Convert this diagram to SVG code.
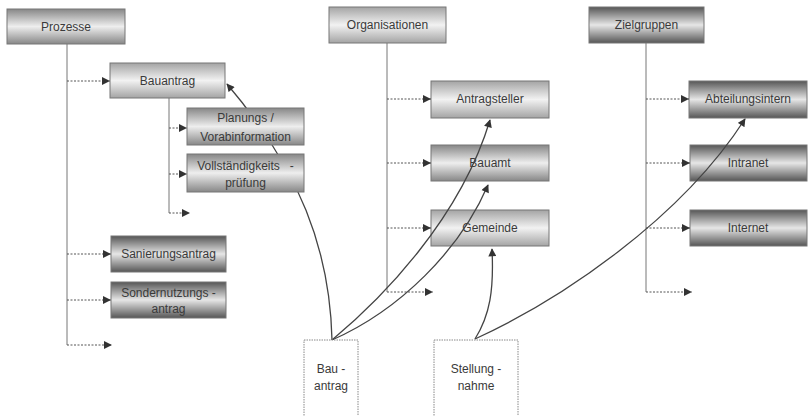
<svg xmlns="http://www.w3.org/2000/svg" width="808" height="416" viewBox="0 0 808 416">
<defs>
<linearGradient id="gLight" x1="0" y1="0" x2="0" y2="1">
<stop offset="0" stop-color="#a4a4a4"/><stop offset="0.5" stop-color="#f2f2f2"/><stop offset="1" stop-color="#a4a4a4"/>
</linearGradient>
<linearGradient id="gMed" x1="0" y1="0" x2="0" y2="1">
<stop offset="0" stop-color="#878787"/><stop offset="0.5" stop-color="#eeeeee"/><stop offset="1" stop-color="#878787"/>
</linearGradient>
<linearGradient id="gDark" x1="0" y1="0" x2="0" y2="1">
<stop offset="0" stop-color="#565656"/><stop offset="0.5" stop-color="#e6e6e6"/><stop offset="1" stop-color="#565656"/>
</linearGradient>
<marker id="ah" viewBox="0 0 10 10" refX="10" refY="5" markerWidth="9" markerHeight="8" markerUnits="userSpaceOnUse" orient="auto">
<path d="M0,0 L10,5 L0,10 z" fill="#333"/>
</marker>
<marker id="ahc" viewBox="0 0 10 10" refX="9" refY="5" markerWidth="9" markerHeight="8" markerUnits="userSpaceOnUse" orient="auto">
<path d="M0,0 L10,5 L0,10 z" fill="#333"/>
</marker>
</defs>
<style>
.box{stroke:#777;stroke-width:1}
.lt{fill:url(#gLight)}
.md{fill:url(#gMed)}
.dk{fill:url(#gDark)}
.doc{fill:#fff;stroke:#888;stroke-width:1;stroke-dasharray:1.5,1}
text{font-family:"Liberation Sans",Arial,sans-serif;font-size:12px;fill:#3a3a3a;text-anchor:middle}
.vl{stroke:#777;stroke-width:1;fill:none}
.hl{stroke:#555;stroke-width:1;stroke-dasharray:2,1.5;fill:none;marker-end:url(#ah)}
.cv{stroke:#444;stroke-width:1.3;fill:none;marker-end:url(#ahc)}
</style>
<rect width="808" height="416" fill="#fff"/>

<g id="organisationen">
<rect class="box lt" x="329" y="7" width="117" height="36"/>
<text x="387.5" y="29">Organisationen</text>
</g>
<g id="antragsteller">
<rect class="box lt" x="431" y="81" width="118" height="37"/>
<text x="490" y="103">Antragsteller</text>
</g>
<g id="bauamt">
<rect class="box md" x="431" y="145" width="118" height="36"/>
<text x="490" y="167">Bauamt</text>
</g>
<g id="gemeinde">
<rect class="box lt" x="431" y="210" width="118" height="36"/>
<text x="490" y="232">Gemeinde</text>
</g>
<g id="zielgruppen">
<rect class="box dk" x="589" y="7" width="115" height="36"/>
<text x="646.5" y="29">Zielgruppen</text>
</g>
<g id="abteilungsintern">
<rect class="box dk" x="689" y="81" width="118" height="37"/>
<text x="748" y="103">Abteilungsintern</text>
</g>
<g id="intranet">
<rect class="box dk" x="690" y="145" width="117" height="36"/>
<text x="748" y="167">Intranet</text>
</g>
<g id="internet">
<rect class="box dk" x="690" y="210" width="117" height="36"/>
<text x="748" y="232">Internet</text>
</g>

<g id="connectors">
<line class="vl" x1="67" y1="44" x2="67" y2="345"/>
<line class="vl" x1="169" y1="98" x2="169" y2="213"/>
<line class="vl" x1="387" y1="43" x2="387" y2="292"/>
<line class="vl" x1="646" y1="43" x2="646" y2="292"/>
<line class="hl" x1="67" y1="81" x2="110" y2="81"/>
<line class="hl" x1="169" y1="128" x2="187" y2="128"/>
<line class="hl" x1="169" y1="174" x2="187" y2="174"/>
<line class="hl" x1="169" y1="213" x2="190" y2="213"/>
<line class="hl" x1="67" y1="254" x2="111" y2="254"/>
<line class="hl" x1="67" y1="300" x2="111" y2="300"/>
<line class="hl" x1="67" y1="345" x2="112" y2="345"/>
<line class="hl" x1="387" y1="99" x2="431" y2="99"/>
<line class="hl" x1="387" y1="163" x2="431" y2="163"/>
<line class="hl" x1="387" y1="228" x2="431" y2="228"/>
<line class="hl" x1="387" y1="292" x2="433" y2="292"/>
<line class="hl" x1="646" y1="99" x2="689" y2="99"/>
<line class="hl" x1="646" y1="163" x2="690" y2="163"/>
<line class="hl" x1="646" y1="228" x2="690" y2="228"/>
<line class="hl" x1="646" y1="292" x2="692" y2="292"/>
<path class="cv" d="M332,340 C330,250 300,170 227,84"/>
<path class="cv" d="M332,340 C380,300 460,220 490,120"/>
<path class="cv" d="M332,340 C400,310 460,250 488,185"/>
<path class="cv" d="M475,339 C490,315 494,290 492,249"/>
<path class="cv" d="M475,339 C560,300 680,220 745,119"/>
</g>

<g id="prozesse">
<rect class="box md" x="7" y="9" width="118" height="35"/>
<text x="66" y="31">Prozesse</text>
</g>
<g id="bauantrag">
<rect class="box lt" x="110" y="63" width="115" height="35"/>
<text x="167.5" y="85">Bauantrag</text>
</g>
<g id="planungs">
<rect class="box md" x="187" y="108" width="117" height="37"/>
<text x="245.5" y="122">Planungs /</text>
<text x="245.5" y="141">Vorabinformation</text>
</g>
<g id="vollstaendigkeit">
<rect class="box md" x="187" y="154" width="117" height="38"/>
<text x="245.5" y="170" xml:space="preserve">Vollständigkeits   -</text>
<text x="245.5" y="187">prüfung</text>
</g>
<g id="sanierungsantrag">
<rect class="box dk" x="111" y="236" width="115" height="36"/>
<text x="168.5" y="258">Sanierungsantrag</text>
</g>
<g id="sondernutzungsantrag">
<rect class="box dk" x="111" y="282" width="115" height="36"/>
<text x="168.5" y="297">Sondernutzungs -</text>
<text x="168.5" y="313">antrag</text>
</g>

<g id="bau-antrag-doc">
<rect class="doc" x="304" y="340" width="54" height="80"/>
<text x="331" y="373">Bau -</text>
<text x="331" y="390">antrag</text>
</g>
<g id="stellungnahme-doc">
<rect class="doc" x="434" y="340" width="84" height="80"/>
<text x="476" y="373">Stellung -</text>
<text x="476" y="390">nahme</text>
</g>
</svg>
